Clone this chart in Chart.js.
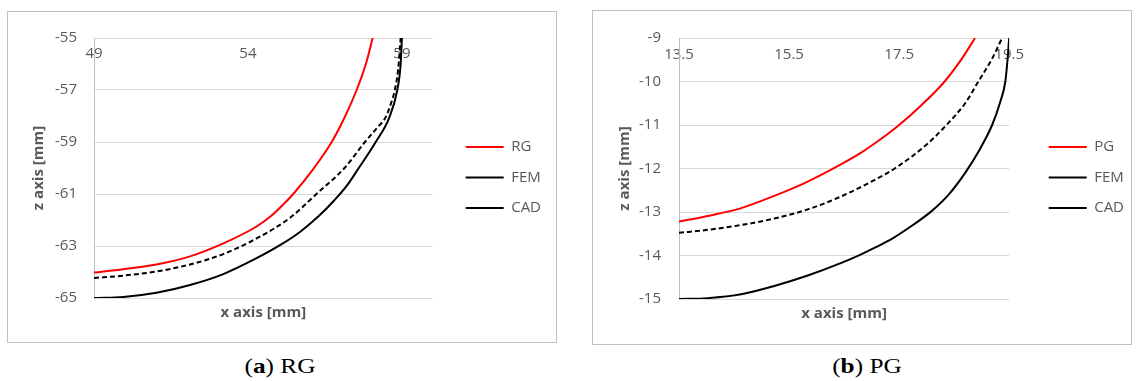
<!DOCTYPE html>
<html>
<head>
<meta charset="utf-8">
<script src="https://cdn.jsdelivr.net/npm/chart.js@4.4.1/dist/chart.umd.min.js"></script>
<style>
body { margin: 0; background: #fff; width: 1136px; height: 381px; position: relative; overflow: hidden; }
.panel { position: absolute; border: 1px solid #bfbfbf; }
#pa { left: 7px; top: 11px; width: 548px; height: 330px; }
#pb { left: 592px; top: 10px; width: 538px; height: 333px; }
.cap { position: absolute; top: 353px; font-family: "Liberation Serif", serif; font-size: 22px; color: #000;
       white-space: nowrap; transform: translateX(-50%) scaleX(1.15); }
</style>
</head>
<body>
<div class="panel" id="pa"><canvas id="chartA"></canvas></div>
<div class="panel" id="pb"><canvas id="chartB"></canvas></div>
<div class="cap" style="left:280px">(<b>a</b>) RG</div>
<div class="cap" style="left:867px">(<b>b</b>) PG</div>
<script>
// panel (a)
var xTicksA = [49, 54, 59];
var zTicksA = [-65, -63, -61, -59, -57, -55];
var rgX = [49, 49.95, 51.03, 52.12, 53.2, 54.28, 54.75, 55.15, 55.47, 56.12, 56.72, 57.15, 57.53, 57.83, 58.05];
var rgZ = [-64.02, -63.89, -63.71, -63.4, -62.9, -62.25, -61.85, -61.4, -61.0, -60.04, -59.0, -58.03, -57.0, -56.0, -55.0];
var femAX = [49, 49.95, 51.03, 52.12, 53.2, 54.28, 55.36, 56.18, 57.15, 57.8, 58.2, 58.48, 58.65, 58.77, 58.88, 58.96];
var femAZ = [-64.23, -64.14, -63.98, -63.71, -63.31, -62.71, -61.92, -61.05, -59.98, -59.0, -58.45, -58.03, -57.5, -57.0, -56.2, -55.0];
var cadAX = [49, 49.95, 51.03, 52.12, 53.2, 54.28, 55.04, 55.7, 56.3, 56.8, 57.2, 57.6, 58.15, 58.6, 58.85, 58.96, 59.0];
var cadAZ = [-65, -64.96, -64.8, -64.5, -64.08, -63.47, -62.97, -62.45, -61.85, -61.25, -60.7, -60.0, -59.0, -58.03, -57.0, -56.0, -55.0];

// panel (b)
var xTicksB = [13.5, 15.5, 17.5, 19.5];
var zTicksB = [-15, -14, -13, -12, -11, -10, -9];
var pgX = [13.5, 14.02, 14.63, 15.23, 15.84, 16.45, 16.78, 17.06, 17.45, 17.9, 18.3, 18.6, 18.88];
var pgZ = [-13.22, -13.09, -12.91, -12.63, -12.3, -11.9, -11.66, -11.42, -11.05, -10.55, -10.04, -9.55, -9.0];
var femBX = [13.5, 14.02, 14.63, 15.23, 15.84, 16.45, 17.06, 17.42, 18.0, 18.36, 18.7, 18.94, 19.2, 19.37];
var femBZ = [-13.48, -13.41, -13.3, -13.15, -12.94, -12.64, -12.26, -12.0, -11.45, -11.0, -10.5, -10.0, -9.45, -9.0];
var cadBX = [13.5, 14.02, 14.63, 15.23, 15.84, 16.45, 16.78, 17.06, 17.39, 17.75, 18.09, 18.4, 18.7, 18.97, 19.19, 19.33, 19.43, 19.47, 19.5];
var cadBZ = [-15.0, -14.98, -14.89, -14.7, -14.46, -14.17, -13.99, -13.82, -13.6, -13.3, -12.98, -12.6, -12.1, -11.55, -11.0, -10.5, -10.0, -9.5, -9.0];

Chart.defaults.font.family = "'Open Sans', sans-serif";
Chart.defaults.color = '#595959';

function pts(xs, zs) {
    return xs.map(function (x, i) { return {x: x, y: zs[i]}; });
}

function lineSet(label, xs, zs, color, dash) {
    return {
        label: label,
        data: pts(xs, zs),
        xAxisID: 'x',
        yAxisID: 'y',
        borderColor: color,
        backgroundColor: color,
        borderWidth: 2,
        borderDash: dash,
        pointRadius: 0,
        showLine: true,
        cubicInterpolationMode: 'monotone'
    };
}

function tickList(list) {
    return function (s) { s.ticks = list.map(function (v) { return {value: v}; }); };
}

function makeChart(id, sets, xTicks, zTicks, xMax, p) {
    var xMin = xTicks[0];
    return new Chart(document.getElementById(id).getContext('2d'), {
        type: 'scatter',
        data: { datasets: sets },
        options: {
            animation: false,
            responsive: true,
            maintainAspectRatio: false,
            layout: { padding: { top: 18, right: p.padRight, bottom: p.padBottom, left: 0 } },
            plugins: {
                tooltip: { enabled: false },
                legend: {
                    position: 'right',
                    align: 'start',
                    title: { display: true, text: ' ', font: { size: 12 }, padding: { top: p.legendTop, bottom: 0 } },
                    labels: {
                        usePointStyle: true,
                        pointStyle: 'line',
                        pointStyleWidth: 38,
                        padding: 15.5,
                        color: '#595959',
                        font: { size: 15 }
                    }
                }
            },
            scales: {
                x: {
                    type: 'linear', position: 'bottom', min: xMin, max: xMax,
                    grid: { display: false, drawTicks: false },
                    border: { display: false },
                    ticks: { display: false },
                    title: { display: true, text: 'x axis [mm]', color: '#595959',
                             font: { size: 15, weight: 'bold' }, padding: { top: 0, bottom: 6 } },
                    afterFit: function (s) { s.height = 30; }
                },
                // tick labels sit just under the top edge, like the Excel chart
                xt: {
                    type: 'linear', position: 'top', min: xMin, max: xMax,
                    grid: { display: false, drawTicks: false },
                    border: { display: false },
                    ticks: { mirror: true, padding: p.xTickPad, autoSkip: false, maxRotation: 0, font: { size: 15 },
                             callback: function (v) { return String(v); } },
                    afterBuildTicks: tickList(xTicks),
                    afterFit: function (s) { s.height = 0; }
                },
                y: {
                    type: 'linear', position: 'left', min: zTicks[0], max: zTicks[zTicks.length - 1],
                    grid: { color: '#d9d9d9', drawTicks: false },
                    border: { display: true, color: '#bfbfbf' },
                    ticks: { padding: p.yTickPad, font: { size: 15 }, callback: function (v) { return String(v); } },
                    afterBuildTicks: tickList(zTicks),
                    title: { display: true, text: 'z axis [mm]', color: '#595959',
                             font: { size: 15, weight: 'bold' }, padding: { top: p.yTitlePad, bottom: 0 } },
                    afterFit: function (s) { s.width = 86; }
                },
                // empty gap between plot and legend
                sp: {
                    type: 'linear', position: 'right', display: false,
                    afterFit: function (s) { s.width = p.spacer; }
                }
            }
        }
    });
}

var chartA = makeChart('chartA', [
    lineSet('RG', rgX, rgZ, '#ff0000', []),
    lineSet('FEM', femAX, femAZ, '#000000', [5, 3]),
    lineSet('CAD', cadAX, cadAZ, '#000000', [])
], xTicksA, zTicksA, 60, { padRight: 5, padBottom: 14, spacer: 17.5, xTickPad: 6.3, yTickPad: 17, yTitlePad: 22, legendTop: 79.6 });

var chartB = makeChart('chartB', [
    lineSet('PG', pgX, pgZ, '#ff0000', []),
    lineSet('FEM', femBX, femBZ, '#000000', [5, 3]),
    lineSet('CAD', cadBX, cadBZ, '#000000', [])
], xTicksB, zTicksB, 19.5, { padRight: -3, padBottom: 15, spacer: 24, xTickPad: 7.3, yTickPad: 18, yTitlePad: 23, legendTop: 80.6 });
</script>
</body>
</html>
